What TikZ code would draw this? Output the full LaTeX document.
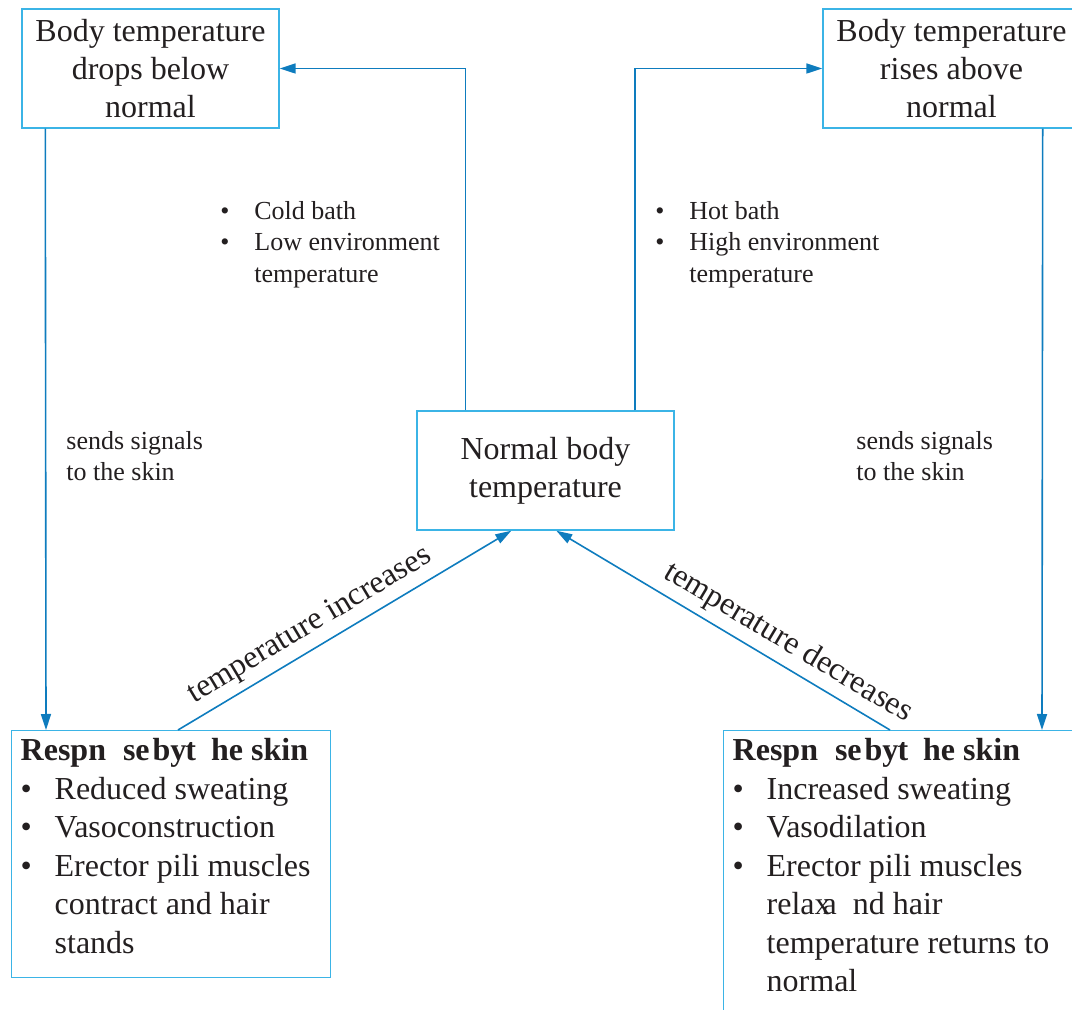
\documentclass[tikz,border=0pt]{standalone}
\usepackage{fontspec}
\setmainfont{Liberation Serif}
\usepackage{xcolor}
\usetikzlibrary{positioning,arrows.meta}

\definecolor{boxline}{RGB}{59,180,230}
\definecolor{flowline}{RGB}{14,124,190}
\definecolor{ink}{RGB}{35,31,32}

\newcommand{\bul}{\makebox[17pt][l]{\textbullet}}
\newcommand{\bitem}[1]{\par\noindent\hangindent=17pt\hangafter=1\bul#1}

\begin{document}
\begin{tikzpicture}[x=0.5pt,y=-0.5pt,
  every node/.style={text=ink},
  event/.style={draw=boxline,line width=0.7pt,inner sep=0pt,minimum width=128.5pt,
    minimum height=59.5pt,align=center,font=\fontsize{16}{19}\selectfont},
  resp/.style={draw=boxline,line width=0.7pt,anchor=north west,inner xsep=4.5pt,
    inner ysep=4pt,font=\fontsize{16}{19.25}\selectfont},
  note/.style={anchor=north west,inner sep=0pt,align=left,font=\fontsize{13}{15.75}\selectfont},
  flow/.style={draw=flowline,line width=0.8pt,-{Triangle[length=8pt,width=5pt]}},
  tag/.style={sloped,above,inner sep=3.5pt,font=\fontsize{16}{19}\selectfont}]

  \useasboundingbox (0,0) rectangle (1072,1010);
  \clip (0,0) rectangle (1072,1010);

  % states
  \node[event] (low)  at (150.5,68.5) {Body temperature\\drops below\\normal};
  \node[event] (high) at (951.5,68.5) {Body temperature\\rises above\\normal};
  \node[event] (norm) at (545.5,470.5) {Normal body\\temperature};

  % responses
  \node[resp] (respL) at (11,730) {\begin{minipage}[t][115.5pt][t]{150.5pt}\raggedright
    \textbf{Respn\hspace{8.5pt}se\hspace{1.5pt}by\kern-0.5pt t\hspace{7.5pt}he skin}
    \bitem{Reduced sweating}
    \bitem{Vasoconstruction}
    \bitem{Erector pili muscles\newline contract and hair\newline stands}
  \end{minipage}};
  \node[resp] (respR) at (723,730) {\begin{minipage}[t][160pt][t]{170pt}\raggedright
    \textbf{Respn\hspace{8.5pt}se\hspace{1.5pt}by\kern-0.5pt t\hspace{7.5pt}he skin}
    \bitem{Increased sweating}
    \bitem{Vasodilation}
    \bitem{Erector pili muscles\newline relax\kern-4pt a\hspace{8pt}nd hair\newline
      temperature returns to\newline normal}
  \end{minipage}};

  % causes and signals
  \node[note] (cold) at (220,201) {\bul Cold bath\\\bul Low environment\\\hspace*{17pt}temperature};
  \node[note] (hot)  at (655,201) {\bul Hot bath\\\bul High environment\\\hspace*{17pt}temperature};
  \node[note] (sigL) at (66,431) {sends signals\\to the skin};
  \node[note] (sigR) at (856,431) {sends signals\\to the skin};

  % arrows
  \draw[flow] ([xshift=24.5pt]norm.north west) |- (low.east);
  \draw[flow] ([xshift=-20pt]norm.north east) |- (high.west);
  \draw[flow] ([xshift=12pt]low.south west) -- ([xshift=17.5pt]respL.north west);
  \draw[flow] ([xshift=-19pt]high.south east) -- ([xshift=159.5pt]respR.north west);
  \draw[flow] ([xshift=83.5pt]respL.north west) -- ([xshift=47.5pt]norm.south west)
    node[tag,pos=0.43] {temperature increases};
  \draw[flow] ([xshift=83.5pt]respR.north west) -- ([xshift=70pt]norm.south west)
    node[tag,pos=0.34] {temperature decreases};
\end{tikzpicture}
\end{document}
